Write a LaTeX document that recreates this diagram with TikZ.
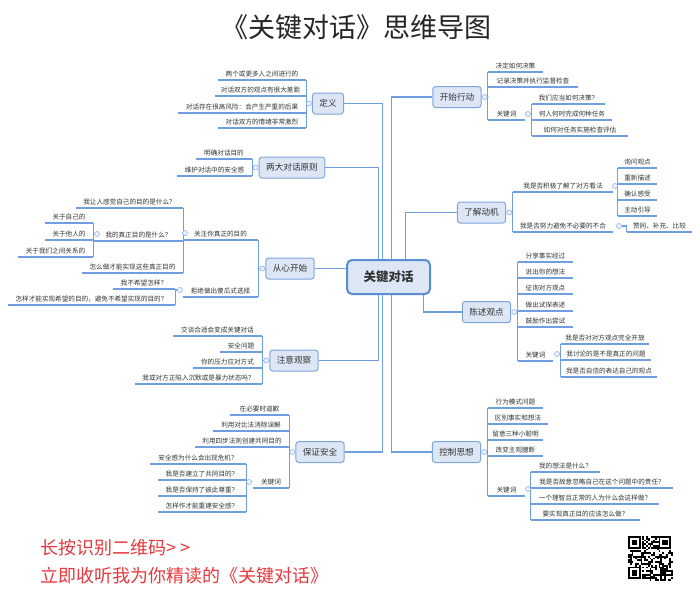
\documentclass[tikz,border=0pt]{standalone}
\usepackage{fontspec}
\setmainfont{Noto Sans CJK SC}
\usetikzlibrary{calc}
\definecolor{lineblue}{HTML}{6F9FE0}
\definecolor{boxfill}{HTML}{DCE6F4}
\definecolor{boxline}{HTML}{7FA6DC}
\definecolor{ctrline}{HTML}{5B8BD3}
\definecolor{txt}{HTML}{333333}
\definecolor{redtxt}{HTML}{E8383D}
\pgfdeclarelayer{background}
\pgfdeclarelayer{canvas}
\pgfsetlayers{canvas,background,main}
\tikzset{
 leaf/.style={inner xsep=0pt, inner ysep=2pt, text height=5.2pt, text depth=1.2pt, font=\fontsize{6.6}{7}\selectfont, text=txt},
 uline/.style={draw=lineblue, line width=1.2pt},
 knob/.style={circle, draw=lineblue!80, fill=blue!5, line width=0.6pt, minimum size=5pt, inner sep=0pt},
 topic/.style={draw=boxline, fill=boxfill, rounded corners=3pt, line width=1pt, minimum height=21pt, inner xsep=7pt, inner ysep=0pt, font=\fontsize{8.6}{9}\selectfont, text=txt},
 central/.style={draw=ctrline, fill=boxfill, rounded corners=5pt, line width=2pt, minimum width=83pt, minimum height=34pt, font=\bfseries\fontsize{12.5}{13}\selectfont, text=txt},
 mainconn/.style={draw=lineblue, line width=1.6pt},
 conn/.style={draw=lineblue, line width=1.2pt},
}
\newcommand\mmleaf[5]{%
  \pgfmathsetmacro\lfx{(#2+#3)/2}%
  \pgfmathsetmacro\lfw{#3-#2}%
  \node[leaf, minimum width=\lfw pt, anchor=south] (#1) at (\lfx,#4) {#5};
  \draw[uline] (#1.south west) -- (#1.south east);
}
\begin{document}
\begin{tikzpicture}[x=1pt,y=-1pt]
\useasboundingbox (0,0) rectangle (700,595);
\begin{pgfonlayer}{canvas}
\fill[white] (0,0) rectangle (700,595);
\end{pgfonlayer}

\node[font=\fontsize{27}{30}\selectfont, text=black!85, inner sep=0pt] (title) at (356,27) {《关键对话》思维导图};

\node[central] (ctr) at (388.5,277) {关键对话};

% ---------- left ----------
\node[topic] (dy) at (328,103.5) {定义};
\node[knob] (dyk) at ([xshift=-3pt]dy.west) {};
\mmleaf{d1}{218}{306}{80}{两个或更多人之间进行的}
\mmleaf{d2}{215}{306}{96}{对话双方的观点有很大差距}
\mmleaf{d3}{178}{306}{113}{对话存在很高风险：会产生严重的后果}
\mmleaf{d4}{218}{306}{128}{对话双方的情绪非常激烈}

\node[topic] (ld) at (292,167.5) {两大对话原则};
\node[knob] (ldk) at ([xshift=-3pt]ld.west) {};
\mmleaf{l1}{196}{252}{159}{明确对话目的}
\mmleaf{l2}{177}{252}{176}{维护对话中的安全感}

\node[topic] (cx) at (290,268.5) {从心开始};
\node[knob] (cxk) at ([xshift=-3pt]cx.west) {};
\mmleaf{x1}{183}{258}{240}{关注你真正的目的}
\node[knob] (x1k) at (185,233) {};
\mmleaf{x11}{76}{183}{208}{我让人感觉自己的目的是什么？}
\mmleaf{x12}{94}{183}{241}{我的真正目的是什么？}
\node[knob] (x12k) at (97,234) {};
\mmleaf{x121}{45}{93}{223}{关于自己的}
\mmleaf{x122}{45}{93}{240}{关于他人的}
\mmleaf{x123}{18}{93}{257}{关于我们之间关系的}
\mmleaf{x13}{82}{183}{273}{怎么做才能实现这些真正目的}
\mmleaf{x2}{183}{258}{297}{拒绝做出傻瓜式选择}
\node[knob] (x2k) at (180,290) {};
\mmleaf{x21}{113}{175}{289}{我不希望怎样？}
\mmleaf{x22}{8}{175}{305}{怎样才能实现希望的目的，避免不希望实现的目的？}

\node[topic] (zy) at (294,360.5) {注意观察};
\node[knob] (zyk) at ([xshift=-3pt]zy.west) {};
\mmleaf{z1}{173}{262}{336}{交谈合适会变成关键对话}
\mmleaf{z2}{220}{262}{352}{安全问题}
\mmleaf{z3}{193}{262}{368}{你的压力应对方式}
\mmleaf{z4}{135}{262}{384}{我或对方正陷入沉默或是暴力状态吗？}

\node[topic] (bz) at (320,452) {保证安全};
\node[knob] (bzk) at ([xshift=-3pt]bz.west) {};
\mmleaf{b1}{230}{289}{415}{在必要时道歉}
\mmleaf{b2}{213}{289}{431}{利用对比法消除误解}
\mmleaf{b3}{195}{289}{447}{利用四步法则创建共同目的}
\mmleaf{b4}{253}{289}{488}{关键词}
\node[knob] (b4k) at (249,482) {};
\mmleaf{b41}{150}{246}{464}{安全感为什么会出现危机？}
\mmleaf{b42}{158}{246}{480}{我是否建立了共同目的？}
\mmleaf{b43}{158}{246}{496}{我是否保持了彼此尊重？}
\mmleaf{b44}{158}{246}{512}{怎样作才能重建安全感？}

% ---------- right ----------
\node[topic] (ks) at (457,97) {开始行动};
\node[knob] (ksk) at ([xshift=3pt]ks.east) {};
\mmleaf{k1}{488}{543}{72}{决定如何决策}
\mmleaf{k2}{488}{578}{87}{记录决策并执行监督检查}
\mmleaf{k3}{488}{525}{120}{关键词}
\node[knob] (k3k) at (528,114) {};
\mmleaf{k31}{532}{605}{104}{我们应当如何决策？}
\mmleaf{k32}{532}{612}{120}{何人何时完成何种任务}
\mmleaf{k33}{532}{628}{136}{如何对任务实施检查评估}

\node[topic] (lj) at (481.5,212.5) {了解动机};
\node[knob] (ljk) at ([xshift=3pt]lj.east) {};
\mmleaf{m1}{513}{613}{192}{我是否积极了解了对方看法}
\node[knob] (m1k) at (615,186) {};
\mmleaf{m11}{618}{657}{168}{询问观点}
\mmleaf{m12}{618}{657}{184}{重新描述}
\mmleaf{m13}{618}{657}{200}{确认感受}
\mmleaf{m14}{618}{657}{216}{主动引导}
\mmleaf{m2}{513}{613}{232}{我是否努力避免不必要的不合}
\node[knob] (m2k) at (619,226) {};
\mmleaf{m21}{627}{692}{232}{赞同、补充、比较}

\node[topic] (cs) at (486.5,312) {陈述观点};
\node[knob] (csk) at ([xshift=3pt]cs.east) {};
\mmleaf{c1}{518}{573}{262}{分享事实经过}
\mmleaf{c2}{518}{573}{278}{说出你的想法}
\mmleaf{c3}{518}{573}{294}{征询对方观点}
\mmleaf{c4}{518}{573}{311}{做出试探表述}
\mmleaf{c5}{518}{573}{327}{鼓励作出尝试}
\mmleaf{c6}{518}{553}{361}{关键词}
\node[knob] (c6k) at (557,354) {};
\mmleaf{c61}{561}{649}{344}{我是否对对方观点完全开放}
\mmleaf{c62}{561}{651}{360}{我讨论的是不是真正的问题}
\mmleaf{c63}{561}{657}{377}{我是否自信的表达自己的观点}

\node[topic] (kz) at (456.5,452) {控制思想};
\node[knob] (kzk) at ([xshift=3pt]kz.east) {};
\mmleaf{s1}{488}{543}{408}{行为模式问题}
\mmleaf{s2}{488}{548}{424}{区别事实和想法}
\mmleaf{s3}{488}{543}{440}{留意三种小聪明}
\mmleaf{s4}{488}{543}{456}{改变主观臆断}
\mmleaf{s5}{488}{525}{496}{关键词}
\node[knob] (s5k) at (528,489) {};
\mmleaf{s51}{531}{600}{472}{我的想法是什么？}
\mmleaf{s52}{531}{673}{488}{我是否故意忽略自己在这个问题中的责任？}
\mmleaf{s53}{531}{659}{504}{一个理智且正常的人为什么会这样做？}
\mmleaf{s54}{531}{640}{520}{要实现真正目的应该怎么做？}

% ---------- connectors ----------
\begin{pgfonlayer}{background}
\draw[mainconn] (dy.east) -| ([xshift=-6pt]ctr.north);
\draw[mainconn] (ld.east) -| ([xshift=-10pt]ctr.north);
\draw[mainconn] (cx.east) -- (cx.east -| ctr.west);
\draw[mainconn] (zy.east) -| ([xshift=-10pt]ctr.south);
\draw[mainconn] (bz.east) -| ([xshift=-6pt]ctr.south);
\draw[mainconn] (ks.west) -| ([xshift=3pt]ctr.north);
\draw[mainconn] (lj.west) -| ([xshift=17pt]ctr.north);
\draw[mainconn] (cs.west) -| ([xshift=35pt]ctr.south);
\draw[mainconn] (kz.west) -| ([xshift=3pt]ctr.south);

\foreach \c in {d1,d2,d3,d4} \draw[conn] (dyk) -| (\c.south east);
\foreach \c in {l1,l2} \draw[conn] (ldk) -| (\c.south east);
\foreach \c in {x1,x2} \draw[conn] (cxk) -| (\c.south east);
\foreach \c in {x11,x12,x13} \draw[conn] (x1k) -| (\c.south east);
\foreach \c in {x121,x122,x123} \draw[conn] (x12k) -| (\c.south east);
\foreach \c in {x21,x22} \draw[conn] (x2k) -| (\c.south east);
\foreach \c in {z1,z2,z3,z4} \draw[conn] (zyk) -| (\c.south east);
\foreach \c in {b1,b2,b3,b4} \draw[conn] (bzk) -| (\c.south east);
\foreach \c in {b41,b42,b43,b44} \draw[conn] (b4k) -| (\c.south east);

\foreach \c in {k1,k2,k3} \draw[conn] (ksk) -| (\c.south west);
\foreach \c in {k31,k32,k33} \draw[conn] (k3k) -| (\c.south west);
\foreach \c in {m1,m2} \draw[conn] (ljk) -| (\c.south west);
\foreach \c in {m11,m12,m13,m14} \draw[conn] (m1k) -| (\c.south west);
\draw[conn] (m2k) -| (m21.south west);
\foreach \c in {c1,c2,c3,c4,c5,c6} \draw[conn] (csk) -| (\c.south west);
\foreach \c in {c61,c62,c63} \draw[conn] (c6k) -| (\c.south west);
\foreach \c in {s1,s2,s3,s4,s5} \draw[conn] (kzk) -| (\c.south west);
\foreach \c in {s51,s52,s53,s54} \draw[conn] (s5k) -| (\c.south west);
\end{pgfonlayer}

% ---------- footer ----------
\node[anchor=west, inner sep=0pt, text=redtxt, font=\fontsize{18}{20}\selectfont] (f1) at (40,548) {长按识别二维码> >};
\node[anchor=west, inner sep=0pt, text=redtxt, font=\fontsize{18}{20}\selectfont] (f2) at (40,576) {立即收听我为你精读的《关键对话》};

% ---------- QR-like code ----------
\pgfmathsetseed{4321}
\foreach \i in {0,...,24}{\foreach \j in {0,...,24}{%
  \pgfmathtruncatemacro\qon{(rnd<0.5)*(1-((\i<8)&&(\j<8)))*(1-((\i>16)&&(\j<8)))*(1-((\i<8)&&(\j>16)))}%
  \ifnum\qon=1 \fill[black] (628+\i*1.8,536+\j*1.8) rectangle ++(1.8,1.8);\fi
}}
\foreach \ox/\oy in {628/536, 658.6/536, 628/566.6}{%
  \fill[black] (\ox,\oy) rectangle ++(12.6,12.6);
  \fill[white] (\ox+1.8,\oy+1.8) rectangle ++(9,9);
  \fill[black] (\ox+3.6,\oy+3.6) rectangle ++(5.4,5.4);
}
\end{tikzpicture}
\end{document}
